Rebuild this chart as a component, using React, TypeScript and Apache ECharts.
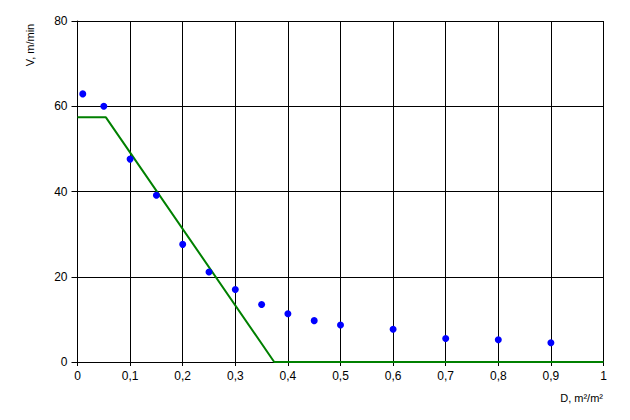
import { useRef, useEffect } from "react";
import * as echarts from "echarts";

// measured points (D, V)
const pointD = [0.01, 0.05, 0.1, 0.15, 0.2, 0.25, 0.3, 0.35, 0.4, 0.45, 0.5, 0.6, 0.7, 0.8, 0.9];
const pointV = [62.9, 60, 47.6, 39.1, 27.6, 21.1, 17.0, 13.5, 11.3, 9.7, 8.7, 7.7, 5.5, 5.2, 4.5];

// model line (D, V)
const lineD = [0, 0.054, 0.374, 1];
const lineV = [57.4, 57.4, 0, 0];

const yTicks = [0, 20, 40, 60, 80];

const FONT = "Liberation Sans, Arial, sans-serif";

function App() {
    const chartRef = useRef<HTMLDivElement | null>(null);

    useEffect(() => {
        if (!chartRef.current) return;
        const chart = echarts.init(chartRef.current, null, { renderer: "svg" });

        chart.setOption({
            animation: false,
            backgroundColor: "#ffffff",
            grid: { left: 77.5, right: 26.5, top: 21, bottom: 58 },
            xAxis: {
                type: "value",
                min: 0,
                max: 1,
                interval: 0.1,
                axisLine: { lineStyle: { color: "#000", width: 1 } },
                axisTick: { show: true, length: 4, lineStyle: { color: "#000" } },
                axisLabel: {
                    color: "#000",
                    fontSize: 12,
                    fontFamily: FONT,
                    margin: 8,
                    formatter: (v: number) => String(Math.round(v * 10) / 10).replace(".", ","),
                },
                splitLine: { show: true, lineStyle: { color: "#000", width: 1 } },
            },
            yAxis: {
                type: "value",
                min: yTicks[0],
                max: yTicks[yTicks.length - 1],
                interval: 20,
                axisLine: { show: true, lineStyle: { color: "#000", width: 1 } },
                axisTick: { show: true, length: 6, lineStyle: { color: "#000" } },
                axisLabel: { color: "#000", fontSize: 12, fontFamily: FONT, margin: 10 },
                splitLine: { show: true, lineStyle: { color: "#000", width: 1 } },
            },
            graphic: [
                {
                    type: "text",
                    x: 30,
                    y: 45,
                    rotation: Math.PI / 2,
                    style: {
                        text: "V, m/min",
                        fill: "#000",
                        font: `11px ${FONT}`,
                        align: "center",
                        verticalAlign: "middle",
                    },
                },
                {
                    type: "text",
                    right: 27,
                    top: 392,
                    style: {
                        text: "D, m²/m²",
                        fill: "#000",
                        font: `11px ${FONT}`,
                    },
                },
            ],
            series: [
                {
                    type: "line",
                    data: lineD.map((d, i) => [d, lineV[i]]),
                    symbol: "none",
                    lineStyle: { color: "#008000", width: 2 },
                    z: 3,
                },
                {
                    type: "scatter",
                    data: pointD.map((d, i) => [d, pointV[i]]),
                    symbol: "circle",
                    symbolSize: 7,
                    itemStyle: { color: "#0000ff", opacity: 1 },
                    z: 4,
                },
            ],
        });

        return () => {
            chart.dispose();
        };
    }, []);

    return (
        <div
            ref={chartRef}
            style={{ width: "630px", height: "420px", margin: "-8px", background: "#fff" }}
        />
    );
}

export default App;
